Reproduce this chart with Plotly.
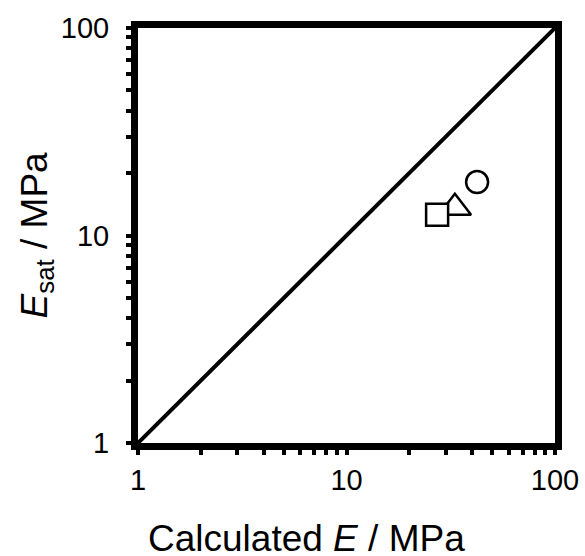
import plotly.graph_objects as go

# Measured vs calculated modulus (MPa)
calc_circle = [42.3]
sat_circle = [18.1]
calc_triangle = [33.1]
sat_triangle = [13.6]
calc_square = [27.2]
sat_square = [12.6]

# 1:1 reference line
parity_x = [1, 100]
parity_y = [1, 100]

tick_vals = [1, 10, 100]
tick_text = ["1", "10", "100"]
minor_vals = [2, 3, 4, 5, 6, 7, 8, 9, 20, 30, 40, 50, 60, 70, 80, 90]

FONT = "Arial"

fig = go.Figure()

fig.add_trace(go.Scatter(
    x=parity_x, y=parity_y, mode="lines",
    line=dict(color="black", width=4), showlegend=False, hoverinfo="skip",
))

marker_line = dict(color="black", width=2.5)
fig.add_trace(go.Scatter(
    x=calc_circle, y=sat_circle, mode="markers", showlegend=False,
    marker=dict(symbol="circle", size=22, color="white", line=marker_line),
))
fig.add_trace(go.Scatter(
    x=calc_triangle, y=sat_triangle, mode="markers", showlegend=False,
    marker=dict(symbol="triangle-up", size=28, color="white", line=marker_line),
))
fig.add_trace(go.Scatter(
    x=calc_square, y=sat_square, mode="markers", showlegend=False,
    marker=dict(symbol="square", size=22, color="white", line=marker_line),
))

axis_common = dict(
    type="log",
    range=[0, 2],
    tickvals=tick_vals,
    ticktext=tick_text,
    ticks="outside",
    ticklen=5,
    tickwidth=4,
    tickcolor="black",
    showline=True,
    linecolor="black",
    linewidth=7,
    mirror=True,
    showgrid=False,
    zeroline=False,
    automargin=False,
    tickfont=dict(family=FONT, size=29, color="black"),
    minor=dict(tickvals=minor_vals, ticks="outside", ticklen=5, tickwidth=4,
               tickcolor="black", showgrid=False),
)

fig.update_xaxes(**axis_common)
fig.update_yaxes(**axis_common, ticklabelstandoff=11)

title_font = dict(family=FONT, size=37, color="black")

# axis titles placed as paper-anchored text
fig.add_annotation(
    text="Calculated <i>E</i> / MPa",
    xref="paper", yref="paper", x=0.404, y=-0.229,
    xanchor="center", yanchor="middle", showarrow=False,
    font=title_font,
)
fig.add_annotation(
    text="<i>E</i><sub>sat</sub> / MPa",
    xref="paper", yref="paper", x=-0.2446, y=0.5,
    xanchor="center", yanchor="middle", showarrow=False,
    textangle=-90, font=title_font,
)

fig.update_layout(
    width=585, height=556,
    margin=dict(l=138, r=30, t=28, b=113),
    font=dict(family=FONT, size=28, color="black"),
    paper_bgcolor="white",
    plot_bgcolor="white",
)

fig.write_html("out.html")
